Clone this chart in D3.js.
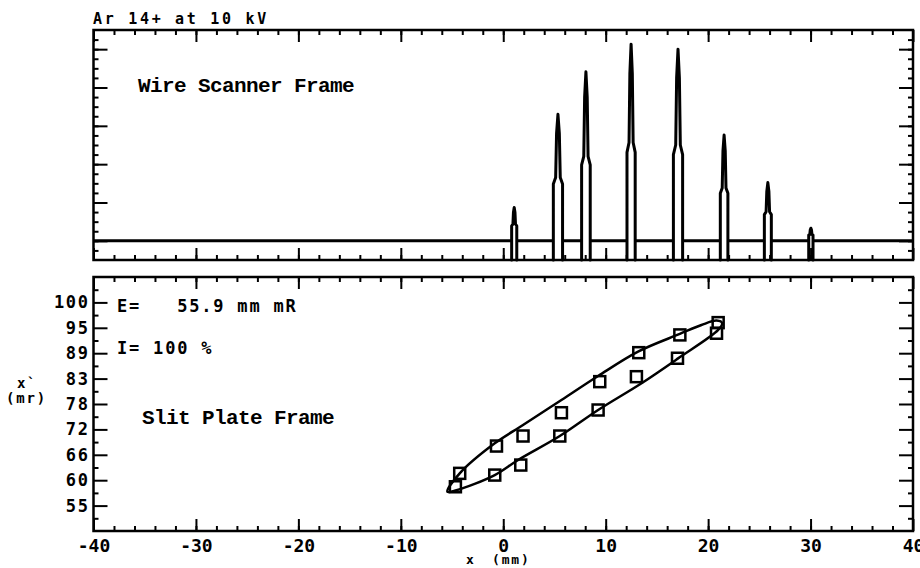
<!DOCTYPE html>
<html>
<head>
<meta charset="utf-8">
<script src="https://cdn.jsdelivr.net/npm/d3@7"></script>
<style>
  body { margin: 0; background: #fff; }
  svg { display: block; }
  .plot { font-family: "DejaVu Sans Mono", monospace; font-weight: bold; fill: #000; white-space: pre; }
  .courier { font-family: "Liberation Mono", "Courier New", monospace; font-weight: bold; fill: #000; white-space: pre; }
</style>
</head>
<body>
<svg width="920" height="568"></svg>
<script>
// wire scanner peaks (x in mm, height in arbitrary units above baseline)
var peakX = [1.07, 5.34, 8.07, 12.48, 17.06, 21.56, 25.83, 30.03];
var peakHeight = [0.87, 3.3, 4.41, 5.13, 5.0, 2.76, 1.52, 0.33];
var peakHalfWidth = [0.25, 0.45, 0.42, 0.4, 0.45, 0.37, 0.34, 0.21];

// slit plate measurements
var slitX = [20.98, 20.82, 17.24, 17.01, 13.23, 13.0, 9.42, 9.26, 5.68, 5.52, 1.93, 1.71, -0.66, -0.83, -4.25, -4.67];
var slitY = [95.52, 93.17, 92.8, 87.63, 88.87, 83.55, 82.45, 76.17, 75.57, 70.41, 70.41, 63.98, 68.19, 61.76, 62.14, 59.17];

// fitted emittance ellipse outline
var ellipseX = [-5.45, -4.25, -0.83, 1.93, 5.68, 9.26, 13.16, 17.24, 19.35, 20.82, 21.37, 20.98, 17.07, 13.5, 9.26, 5.52, 1.45, -0.83, -4.57];
var ellipseY = [58.06, 62.14, 68.79, 72.84, 78.39, 83.71, 89.1, 93.02, 95.0, 95.97, 95.39, 93.9, 87.6, 82.1, 76.17, 70.4, 65.1, 61.76, 58.4];

var xTicks = [-40, -30, -20, -10, 0, 10, 20, 30, 40];
var xTickLabels = ["-40", "-30", "-20", "-10", "0", "10", "20", "30", "40"];
var yTicks = [55, 60.625, 66.25, 71.875, 77.5, 83.125, 88.75, 94.375, 100];
var yTickLabels = ["55", "60", "66", "72", "78", "83", "89", "95", "100"];
var wireTicks = [0, 1, 2, 3, 4, 5];

var svg = d3.select("svg");

var x = d3.scaleLinear().domain([-40, 40]).range([93.5, 913]);
var yTop = d3.scaleLinear().domain([-0.5, 5.5]).range([260, 30]);
var yBot = d3.scaleLinear().domain([49.375, 105.625]).range([531, 277]);

var xMinor = d3.range(-38, 40, 2);

function ticks(axis, values, size, transform) {
    svg.append("g")
        .attr("transform", transform)
        .call(axis.tickValues(values).tickSize(-size).tickFormat(""))
        .call(function(a) { a.select(".domain").remove(); })
        .selectAll("line")
        .attr("stroke", "#000")
        .attr("stroke-width", 2);
}

function frame(y, yMajor, yMinor) {
    var x0 = x.range()[0], x1 = x.range()[1];
    var yb = y.range()[0], yt = y.range()[1];
    ticks(d3.axisBottom(x), xTicks, 12, "translate(0," + yb + ")");
    ticks(d3.axisBottom(x), xMinor, 5, "translate(0," + yb + ")");
    ticks(d3.axisTop(x), xTicks, 12, "translate(0," + yt + ")");
    ticks(d3.axisTop(x), xMinor, 5, "translate(0," + yt + ")");
    ticks(d3.axisLeft(y), yMajor, 14, "translate(" + x0 + ",0)");
    ticks(d3.axisLeft(y), yMinor, 5, "translate(" + x0 + ",0)");
    ticks(d3.axisRight(y), yMajor, 14, "translate(" + x1 + ",0)");
    ticks(d3.axisRight(y), yMinor, 5, "translate(" + x1 + ",0)");
    svg.append("rect")
        .attr("x", x0).attr("y", yt)
        .attr("width", x1 - x0).attr("height", yb - yt)
        .attr("fill", "none")
        .attr("stroke", "#000")
        .attr("stroke-width", 2.5);
}

// ---- top panel: wire scanner
frame(yTop, wireTicks, d3.range(-0.25, 5.5, 0.25));

var trace = [[-40, 0]];
peakX.forEach(function(c, i) {
    var h = peakHeight[i], w = peakHalfWidth[i];
    trace.push([c - w, 0], [c - w, -0.5], [c - w, 0.45 * h], [c - 0.5 * w, 0.5 * h],
        [c - 0.3 * w, 0.85 * h], [c, h], [c + 0.3 * w, 0.85 * h], [c + 0.5 * w, 0.5 * h],
        [c + w, 0.45 * h], [c + w, -0.5], [c + w, 0]);
});
trace.push([40, 0]);

svg.append("path")
    .datum(trace)
    .attr("fill", "none")
    .attr("stroke", "#000")
    .attr("stroke-width", 3)
    .attr("stroke-linejoin", "round")
    .attr("d", d3.line().x(function(d) { return x(d[0]); }).y(function(d) { return yTop(d[1]); }));

svg.append("text").attr("class", "plot")
    .attr("x", 93).attr("y", 24)
    .style("font-size", "15px").style("letter-spacing", "2.7px")
    .text("Ar 14+ at 10 kV");

svg.append("text").attr("class", "courier")
    .attr("x", 138).attr("y", 92)
    .style("font-size", "21px").style("letter-spacing", "-0.6px")
    .text("Wire Scanner Frame");

// ---- bottom panel: slit plate
frame(yBot, yTicks, d3.range(52.1875, 105.6, 5.625));

svg.append("path")
    .datum(ellipseX.map(function(v, i) { return [v, ellipseY[i]]; }))
    .attr("fill", "none")
    .attr("stroke", "#000")
    .attr("stroke-width", 2.5)
    .attr("d", d3.line()
        .curve(d3.curveCatmullRomClosed.alpha(0.5))
        .x(function(d) { return x(d[0]); })
        .y(function(d) { return yBot(d[1]); }));

svg.append("g").selectAll("rect")
    .data(slitX.map(function(v, i) { return [v, slitY[i]]; }))
    .enter().append("rect")
    .attr("x", function(d) { return x(d[0]) - 5.5; })
    .attr("y", function(d) { return yBot(d[1]) - 5.5; })
    .attr("width", 11).attr("height", 11)
    .attr("fill", "none")
    .attr("stroke", "#000")
    .attr("stroke-width", 2.5);

// tick labels
svg.append("g")
    .attr("transform", "translate(0,531)")
    .call(d3.axisBottom(x).tickValues(xTicks).tickSize(0).tickPadding(8)
        .tickFormat(function(d, i) { return xTickLabels[i]; }))
    .call(function(a) { a.select(".domain").remove(); })
    .selectAll("text")
    .attr("class", "plot")
    .style("font-size", "18px");

svg.append("g")
    .attr("transform", "translate(93.5,0)")
    .call(d3.axisLeft(yBot).tickValues(yTicks).tickSize(0).tickPadding(4)
        .tickFormat(function(d, i) { return yTickLabels[i]; }))
    .call(function(a) { a.select(".domain").remove(); })
    .selectAll("text")
    .attr("class", "plot")
    .style("font-size", "17px")
    .style("letter-spacing", "1.6px");

svg.append("text").attr("class", "plot")
    .attr("x", 117).attr("y", 312)
    .style("font-size", "17px").style("letter-spacing", "1.8px")
    .text("E=   55.9 mm mR");

svg.append("text").attr("class", "plot")
    .attr("x", 117).attr("y", 354)
    .style("font-size", "17px").style("letter-spacing", "1.8px")
    .text("I= 100 %");

svg.append("text").attr("class", "courier")
    .attr("x", 142).attr("y", 424)
    .style("font-size", "21px").style("letter-spacing", "-0.6px")
    .text("Slit Plate Frame");

// axis titles
svg.append("text").attr("class", "plot")
    .attr("x", 17).attr("y", 388)
    .style("font-size", "14px").style("letter-spacing", "1.5px")
    .text("x`");
svg.append("text").attr("class", "plot")
    .attr("x", 6).attr("y", 403)
    .style("font-size", "14px").style("letter-spacing", "1.8px")
    .text("(mr)");
svg.append("text").attr("class", "plot")
    .attr("x", 466).attr("y", 564)
    .style("font-size", "13px")
    .text("x");
svg.append("text").attr("class", "plot")
    .attr("x", 492).attr("y", 564)
    .style("font-size", "13px").style("letter-spacing", "1.8px")
    .text("(mm)");
</script>
</body>
</html>
